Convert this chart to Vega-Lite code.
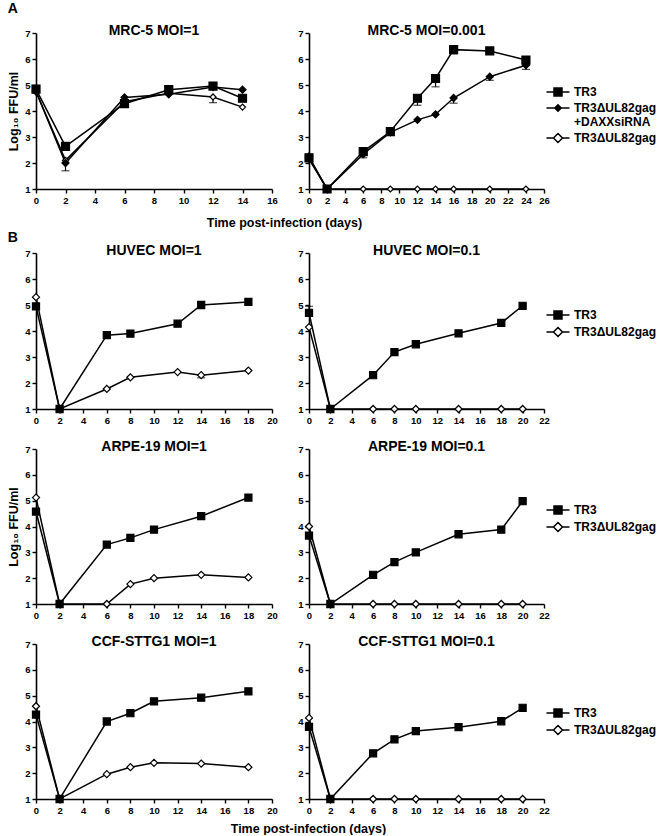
{
  "$schema": "https://vega.github.io/schema/vega-lite/v6.json",
  "padding": {"left": 7, "top": 2, "right": 0, "bottom": 0},
  "config": {
    "font": "Liberation Sans",
    "view": {"stroke": null},
    "axis": {"domainColor": "black", "domainWidth": 1.6, "tickColor": "black", "tickWidth": 1.4, "tickSize": 4, "labelFont": "Liberation Sans", "labelFontWeight": "bold", "labelFontSize": 9.5, "labelColor": "black", "labelPadding": 2, "grid": false, "titleFont": "Liberation Sans", "titleFontSize": 12.5, "titleFontWeight": "bold", "titleColor": "black", "titlePadding": 4, "labelFlush": false, "labelOverlap": false},
    "title": {"font": "Liberation Sans", "fontSize": 14, "fontWeight": "bold", "color": "black", "offset": -10}
  },
  "datasets": {
    "a1": [
      {"day": 0, "series": "TR3ΔUL82gag", "v": 4.75},
      {"day": 2, "series": "TR3ΔUL82gag", "v": 2.1},
      {"day": 6, "series": "TR3ΔUL82gag", "v": 4.36},
      {"day": 9, "series": "TR3ΔUL82gag", "v": 4.68},
      {"day": 12, "series": "TR3ΔUL82gag", "v": 4.54, "e": 4.32},
      {"day": 14, "series": "TR3ΔUL82gag", "v": 4.15},
      {"day": 0, "series": "TR3ΔUL82gag+DAXXsiRNA", "v": 4.75},
      {"day": 2, "series": "TR3ΔUL82gag+DAXXsiRNA", "v": 2.0, "e": 1.7},
      {"day": 6, "series": "TR3ΔUL82gag+DAXXsiRNA", "v": 4.52},
      {"day": 9, "series": "TR3ΔUL82gag+DAXXsiRNA", "v": 4.64},
      {"day": 12, "series": "TR3ΔUL82gag+DAXXsiRNA", "v": 4.92},
      {"day": 14, "series": "TR3ΔUL82gag+DAXXsiRNA", "v": 4.82},
      {"day": 0, "series": "TR3", "v": 4.84},
      {"day": 2, "series": "TR3", "v": 2.64, "e": 2.5},
      {"day": 6, "series": "TR3", "v": 4.28},
      {"day": 9, "series": "TR3", "v": 4.82},
      {"day": 12, "series": "TR3", "v": 4.96, "e": 4.85},
      {"day": 14, "series": "TR3", "v": 4.49}
    ],
    "a2": [
      {"day": 0, "series": "TR3ΔUL82gag", "v": 2.15},
      {"day": 2, "series": "TR3ΔUL82gag", "v": 1},
      {"day": 6, "series": "TR3ΔUL82gag", "v": 1},
      {"day": 9, "series": "TR3ΔUL82gag", "v": 1},
      {"day": 12, "series": "TR3ΔUL82gag", "v": 1},
      {"day": 14, "series": "TR3ΔUL82gag", "v": 1},
      {"day": 16, "series": "TR3ΔUL82gag", "v": 1},
      {"day": 20, "series": "TR3ΔUL82gag", "v": 1},
      {"day": 24, "series": "TR3ΔUL82gag", "v": 1},
      {"day": 0, "series": "TR3ΔUL82gag+DAXXsiRNA", "v": 2.25},
      {"day": 2, "series": "TR3ΔUL82gag+DAXXsiRNA", "v": 1},
      {"day": 6, "series": "TR3ΔUL82gag+DAXXsiRNA", "v": 2.34, "e": 2.2},
      {"day": 9, "series": "TR3ΔUL82gag+DAXXsiRNA", "v": 3.18},
      {"day": 12, "series": "TR3ΔUL82gag+DAXXsiRNA", "v": 3.66},
      {"day": 14, "series": "TR3ΔUL82gag+DAXXsiRNA", "v": 3.87},
      {"day": 16, "series": "TR3ΔUL82gag+DAXXsiRNA", "v": 4.5, "e": 4.3},
      {"day": 20, "series": "TR3ΔUL82gag+DAXXsiRNA", "v": 5.32, "e": 5.18},
      {"day": 24, "series": "TR3ΔUL82gag+DAXXsiRNA", "v": 5.76, "e": 5.6},
      {"day": 0, "series": "TR3", "v": 2.2},
      {"day": 2, "series": "TR3", "v": 1},
      {"day": 6, "series": "TR3", "v": 2.44, "e": 2.3},
      {"day": 9, "series": "TR3", "v": 3.21},
      {"day": 12, "series": "TR3", "v": 4.49, "e": 4.22},
      {"day": 14, "series": "TR3", "v": 5.25, "e": 4.93},
      {"day": 16, "series": "TR3", "v": 6.36, "e": 6.2},
      {"day": 20, "series": "TR3", "v": 6.31},
      {"day": 24, "series": "TR3", "v": 5.96, "e": 5.82}
    ],
    "b1": [
      {"day": 0, "series": "TR3ΔUL82gag", "v": 5.3},
      {"day": 2, "series": "TR3ΔUL82gag", "v": 1},
      {"day": 6, "series": "TR3ΔUL82gag", "v": 1.77},
      {"day": 8, "series": "TR3ΔUL82gag", "v": 2.22},
      {"day": 12, "series": "TR3ΔUL82gag", "v": 2.42},
      {"day": 14, "series": "TR3ΔUL82gag", "v": 2.3, "e": 2.2},
      {"day": 18, "series": "TR3ΔUL82gag", "v": 2.48},
      {"day": 0, "series": "TR3", "v": 4.95},
      {"day": 2, "series": "TR3", "v": 1},
      {"day": 6, "series": "TR3", "v": 3.84},
      {"day": 8, "series": "TR3", "v": 3.9},
      {"day": 12, "series": "TR3", "v": 4.28, "e": 4.2},
      {"day": 14, "series": "TR3", "v": 5.0},
      {"day": 18, "series": "TR3", "v": 5.12}
    ],
    "b2": [
      {"day": 0, "series": "TR3ΔUL82gag", "v": 4.15},
      {"day": 2, "series": "TR3ΔUL82gag", "v": 1},
      {"day": 6, "series": "TR3ΔUL82gag", "v": 1},
      {"day": 8, "series": "TR3ΔUL82gag", "v": 1},
      {"day": 10, "series": "TR3ΔUL82gag", "v": 1},
      {"day": 14, "series": "TR3ΔUL82gag", "v": 1},
      {"day": 18, "series": "TR3ΔUL82gag", "v": 1},
      {"day": 20, "series": "TR3ΔUL82gag", "v": 1},
      {"day": 0, "series": "TR3", "v": 4.7, "e": 4.95},
      {"day": 2, "series": "TR3", "v": 1},
      {"day": 6, "series": "TR3", "v": 2.3},
      {"day": 8, "series": "TR3", "v": 3.19},
      {"day": 10, "series": "TR3", "v": 3.49},
      {"day": 14, "series": "TR3", "v": 3.91},
      {"day": 18, "series": "TR3", "v": 4.31},
      {"day": 20, "series": "TR3", "v": 4.97}
    ],
    "c1": [
      {"day": 0, "series": "TR3ΔUL82gag", "v": 5.12},
      {"day": 2, "series": "TR3ΔUL82gag", "v": 1},
      {"day": 6, "series": "TR3ΔUL82gag", "v": 1},
      {"day": 8, "series": "TR3ΔUL82gag", "v": 1.77},
      {"day": 10, "series": "TR3ΔUL82gag", "v": 2.0},
      {"day": 14, "series": "TR3ΔUL82gag", "v": 2.13},
      {"day": 18, "series": "TR3ΔUL82gag", "v": 2.03},
      {"day": 0, "series": "TR3", "v": 4.58},
      {"day": 2, "series": "TR3", "v": 1},
      {"day": 6, "series": "TR3", "v": 3.3},
      {"day": 8, "series": "TR3", "v": 3.56},
      {"day": 10, "series": "TR3", "v": 3.88},
      {"day": 14, "series": "TR3", "v": 4.4},
      {"day": 18, "series": "TR3", "v": 5.12}
    ],
    "c2": [
      {"day": 0, "series": "TR3ΔUL82gag", "v": 4.0},
      {"day": 2, "series": "TR3ΔUL82gag", "v": 1},
      {"day": 6, "series": "TR3ΔUL82gag", "v": 1},
      {"day": 8, "series": "TR3ΔUL82gag", "v": 1},
      {"day": 10, "series": "TR3ΔUL82gag", "v": 1},
      {"day": 14, "series": "TR3ΔUL82gag", "v": 1},
      {"day": 18, "series": "TR3ΔUL82gag", "v": 1},
      {"day": 20, "series": "TR3ΔUL82gag", "v": 1},
      {"day": 0, "series": "TR3", "v": 3.65},
      {"day": 2, "series": "TR3", "v": 1},
      {"day": 6, "series": "TR3", "v": 2.13},
      {"day": 8, "series": "TR3", "v": 2.62},
      {"day": 10, "series": "TR3", "v": 3.0},
      {"day": 14, "series": "TR3", "v": 3.7},
      {"day": 18, "series": "TR3", "v": 3.88},
      {"day": 20, "series": "TR3", "v": 4.98}
    ],
    "d1": [
      {"day": 0, "series": "TR3ΔUL82gag", "v": 4.59},
      {"day": 2, "series": "TR3ΔUL82gag", "v": 1},
      {"day": 6, "series": "TR3ΔUL82gag", "v": 1.96},
      {"day": 8, "series": "TR3ΔUL82gag", "v": 2.23},
      {"day": 10, "series": "TR3ΔUL82gag", "v": 2.4},
      {"day": 14, "series": "TR3ΔUL82gag", "v": 2.37},
      {"day": 18, "series": "TR3ΔUL82gag", "v": 2.23},
      {"day": 0, "series": "TR3", "v": 4.27},
      {"day": 2, "series": "TR3", "v": 1},
      {"day": 6, "series": "TR3", "v": 4.0},
      {"day": 8, "series": "TR3", "v": 4.32},
      {"day": 10, "series": "TR3", "v": 4.78},
      {"day": 14, "series": "TR3", "v": 4.92},
      {"day": 18, "series": "TR3", "v": 5.17}
    ],
    "d2": [
      {"day": 0, "series": "TR3ΔUL82gag", "v": 4.14},
      {"day": 2, "series": "TR3ΔUL82gag", "v": 1},
      {"day": 6, "series": "TR3ΔUL82gag", "v": 1},
      {"day": 8, "series": "TR3ΔUL82gag", "v": 1},
      {"day": 10, "series": "TR3ΔUL82gag", "v": 1},
      {"day": 14, "series": "TR3ΔUL82gag", "v": 1},
      {"day": 18, "series": "TR3ΔUL82gag", "v": 1},
      {"day": 20, "series": "TR3ΔUL82gag", "v": 1},
      {"day": 0, "series": "TR3", "v": 3.79},
      {"day": 2, "series": "TR3", "v": 1},
      {"day": 6, "series": "TR3", "v": 2.77},
      {"day": 8, "series": "TR3", "v": 3.31},
      {"day": 10, "series": "TR3", "v": 3.63},
      {"day": 14, "series": "TR3", "v": 3.78},
      {"day": 18, "series": "TR3", "v": 4.01},
      {"day": 20, "series": "TR3", "v": 4.53}
    ]
  },
  "resolve": {"scale": {"shape": "independent", "fill": "independent", "size": "independent"}, "legend": {"shape": "independent", "fill": "independent", "size": "independent"}},
  "spacing": 2,
  "vconcat": [
    {
      "title": {"text": "A", "anchor": "start", "frame": "bounds", "fontSize": 14, "offset": 8},
      "resolve": {"scale": {"shape": "independent", "fill": "independent", "size": "independent"}, "legend": {"shape": "independent", "fill": "independent", "size": "independent"}},
      "vconcat": [
        {
          "title": {"text": "Time post-infection (days)", "orient": "bottom", "anchor": "start", "frame": "bounds", "fontSize": 12.5, "offset": 12, "dx": 199},
          "resolve": {"scale": {"shape": "independent", "fill": "independent", "size": "independent"}, "legend": {"shape": "independent", "fill": "independent", "size": "independent"}},
          "spacing": 19,
          "hconcat": [
            {
              "title": "MRC-5 MOI=1",
              "width": 236, "height": 156,
              "data": {"name": "a1"},
              "encoding": {
                "x": {"field": "day", "type": "quantitative", "scale": {"domain": [0, 16], "nice": false, "zero": false}, "axis": {"title": null, "tickCount": 8}},
                "y": {"field": "v", "type": "quantitative", "scale": {"domain": [1, 7], "nice": false, "zero": false}, "axis": {"title": "Log₁₀ FFU/ml", "tickCount": 6}}
              },
              "layer": [
                {"transform": [{"filter": "isValid(datum.e)"}], "mark": {"type": "rule", "color": "black", "strokeWidth": 1.2}, "encoding": {"y2": {"field": "e"}}},
                {"transform": [{"filter": "isValid(datum.e)"}], "mark": {"type": "tick", "color": "black", "thickness": 1.2, "size": 8, "orient": "horizontal"}, "encoding": {"y": {"field": "e", "type": "quantitative", "scale": {"domain": [1, 7], "nice": false, "zero": false}, "axis": {"title": "Log₁₀ FFU/ml", "tickCount": 6}}}},
                {"mark": {"type": "line", "color": "black", "strokeWidth": 1.5}, "encoding": {"detail": {"field": "series"}}},
                {"mark": {"type": "point", "filled": true, "stroke": "black", "strokeWidth": 1.2, "opacity": 1}, "encoding": {
                  "shape": {"field": "series", "type": "nominal", "scale": {"domain": ["TR3", "TR3ΔUL82gag+DAXXsiRNA", "TR3ΔUL82gag"], "range": ["square", "diamond", "diamond"]}, "legend": null},
                  "fill": {"field": "series", "type": "nominal", "scale": {"domain": ["TR3", "TR3ΔUL82gag+DAXXsiRNA", "TR3ΔUL82gag"], "range": ["black", "black", "white"]}, "legend": null},
                  "size": {"field": "series", "type": "nominal", "scale": {"domain": ["TR3", "TR3ΔUL82gag+DAXXsiRNA", "TR3ΔUL82gag"], "range": [64, 36, 56]}, "legend": null}
                }}
              ]
            },
            {
              "title": "MRC-5 MOI=0.001",
              "width": 235, "height": 156,
              "data": {"name": "a2"},
              "resolve": {"scale": {"shape": "independent", "fill": "independent", "size": "independent"}, "legend": {"shape": "independent", "fill": "independent", "size": "independent"}},
              "encoding": {
                "x": {"field": "day", "type": "quantitative", "scale": {"domain": [0, 26], "nice": false, "zero": false}, "axis": {"title": null, "tickCount": 13}},
                "y": {"field": "v", "type": "quantitative", "scale": {"domain": [1, 7], "nice": false, "zero": false}, "axis": {"title": null, "tickCount": 6}}
              },
              "layer": [
                {"transform": [{"filter": "isValid(datum.e)"}], "mark": {"type": "rule", "color": "black", "strokeWidth": 1.2}, "encoding": {"y2": {"field": "e"}}},
                {"transform": [{"filter": "isValid(datum.e)"}], "mark": {"type": "tick", "color": "black", "thickness": 1.2, "size": 8, "orient": "horizontal"}, "encoding": {"y": {"field": "e", "type": "quantitative", "scale": {"domain": [1, 7], "nice": false, "zero": false}, "axis": {"title": null, "tickCount": 6}}}},
                {"mark": {"type": "line", "color": "black", "strokeWidth": 1.5}, "encoding": {"detail": {"field": "series"}}},
                {"mark": {"type": "point", "filled": true, "stroke": "black", "strokeWidth": 1.2, "opacity": 1}, "encoding": {
                  "shape": {"field": "series", "type": "nominal", "scale": {"domain": ["TR3", "TR3ΔUL82gag+DAXXsiRNA", "TR3ΔUL82gag"], "range": ["square", "diamond", "diamond"]}, "legend": null},
                  "fill": {"field": "series", "type": "nominal", "scale": {"domain": ["TR3", "TR3ΔUL82gag+DAXXsiRNA", "TR3ΔUL82gag"], "range": ["black", "black", "white"]}, "legend": null},
                  "size": {"field": "series", "type": "nominal", "scale": {"domain": ["TR3", "TR3ΔUL82gag+DAXXsiRNA", "TR3ΔUL82gag"], "range": [64, 36, 56]}, "legend": null}
                }},
                {"transform": [{"filter": "datum.day < 0"}], "mark": {"type": "point", "filled": true, "stroke": "black", "strokeWidth": 1.5, "opacity": 1, "size": 100}, "encoding": {
                  "shape": {"field": "series", "type": "nominal", "scale": {"domain": ["TR3", "TR3ΔUL82gag+DAXXsiRNA", "TR3ΔUL82gag"], "range": ["M-2.3,0H2.3M-0.8,-0.8H0.8V0.8H-0.8Z", "M-2.3,0H2.3M0,-0.65L0.65,0L0,0.65L-0.65,0Z", "M-2.3,0H-0.9M0.9,0H2.3M0,-0.9L0.9,0L0,0.9L-0.9,0Z"]},
                    "legend": {"title": null, "orient": "none", "legendX": 243, "legendY": 53, "symbolSize": 100, "symbolStrokeWidth": 1.5, "labelFontSize": 12, "labelFontWeight": "bold", "labelFont": "Liberation Sans", "labelColor": "black", "labelOffset": 10, "rowPadding": 2, "labelLimit": 300, "labelExpr": "datum.label == 'TR3ΔUL82gag+DAXXsiRNA' ? ['TR3ΔUL82gag', '+DAXXsiRNA'] : datum.label"}},
                  "fill": {"field": "series", "type": "nominal", "scale": {"domain": ["TR3", "TR3ΔUL82gag+DAXXsiRNA", "TR3ΔUL82gag"], "range": ["black", "black", "white"]},
                    "legend": {"title": null, "orient": "none", "legendX": 243, "legendY": 53, "symbolSize": 100, "symbolStrokeWidth": 1.5, "labelFontSize": 12, "labelFontWeight": "bold", "labelFont": "Liberation Sans", "labelColor": "black", "labelOffset": 10, "rowPadding": 2, "labelLimit": 300, "labelExpr": "datum.label == 'TR3ΔUL82gag+DAXXsiRNA' ? ['TR3ΔUL82gag', '+DAXXsiRNA'] : datum.label"}}
                }}
              ]
            }
          ]
        }
      ]
    },
    {
      "title": {"text": "B", "anchor": "start", "frame": "bounds", "fontSize": 14, "offset": -1},
      "resolve": {"scale": {"shape": "independent", "fill": "independent", "size": "independent"}, "legend": {"shape": "independent", "fill": "independent", "size": "independent"}},
      "vconcat": [
        {
          "title": {"text": "Time post-infection (days)", "orient": "bottom", "anchor": "start", "frame": "bounds", "fontSize": 12.5, "offset": 8, "dx": 223},
          "resolve": {"scale": {"shape": "independent", "fill": "independent", "size": "independent"}, "legend": {"shape": "independent", "fill": "independent", "size": "independent"}},
          "spacing": 15,
          "vconcat": [
            {
              "resolve": {"scale": {"shape": "independent", "fill": "independent", "size": "independent"}, "legend": {"shape": "independent", "fill": "independent", "size": "independent"}},
              "spacing": 19,
              "hconcat": [
                {
                  "title": "HUVEC MOI=1",
                  "width": 236, "height": 156,
                  "data": {"name": "b1"},
                  "encoding": {
                    "x": {"field": "day", "type": "quantitative", "scale": {"domain": [0, 20], "nice": false, "zero": false}, "axis": {"title": null, "tickCount": 10}},
                    "y": {"field": "v", "type": "quantitative", "scale": {"domain": [1, 7], "nice": false, "zero": false}, "axis": {"title": " ", "tickCount": 6}}
                  },
                  "layer": [
                    {"transform": [{"filter": "isValid(datum.e)"}], "mark": {"type": "rule", "color": "black", "strokeWidth": 1.2}, "encoding": {"y2": {"field": "e"}}},
                    {"transform": [{"filter": "isValid(datum.e)"}], "mark": {"type": "tick", "color": "black", "thickness": 1.2, "size": 8, "orient": "horizontal"}, "encoding": {"y": {"field": "e", "type": "quantitative", "scale": {"domain": [1, 7], "nice": false, "zero": false}, "axis": {"title": " ", "tickCount": 6}}}},
                    {"mark": {"type": "line", "color": "black", "strokeWidth": 1.5}, "encoding": {"detail": {"field": "series"}}},
                    {"mark": {"type": "point", "filled": true, "stroke": "black", "strokeWidth": 1.2, "opacity": 1, "size": 50}, "encoding": {
                      "shape": {"field": "series", "type": "nominal", "scale": {"domain": ["TR3", "TR3ΔUL82gag"], "range": ["square", "diamond"]}, "legend": null},
                      "fill": {"field": "series", "type": "nominal", "scale": {"domain": ["TR3", "TR3ΔUL82gag"], "range": ["black", "white"]}, "legend": null}
                    }}
                  ]
                },
                {
                  "title": "HUVEC MOI=0.1",
                  "width": 235, "height": 156,
                  "data": {"name": "b2"},
                  "resolve": {"scale": {"shape": "independent", "fill": "independent", "size": "independent"}, "legend": {"shape": "independent", "fill": "independent", "size": "independent"}},
                  "encoding": {
                    "x": {"field": "day", "type": "quantitative", "scale": {"domain": [0, 22], "nice": false, "zero": false}, "axis": {"title": null, "tickCount": 11}},
                    "y": {"field": "v", "type": "quantitative", "scale": {"domain": [1, 7], "nice": false, "zero": false}, "axis": {"title": null, "tickCount": 6}}
                  },
                  "layer": [
                    {"transform": [{"filter": "isValid(datum.e)"}], "mark": {"type": "rule", "color": "black", "strokeWidth": 1.2}, "encoding": {"y2": {"field": "e"}}},
                    {"transform": [{"filter": "isValid(datum.e)"}], "mark": {"type": "tick", "color": "black", "thickness": 1.2, "size": 8, "orient": "horizontal"}, "encoding": {"y": {"field": "e", "type": "quantitative", "scale": {"domain": [1, 7], "nice": false, "zero": false}, "axis": {"title": null, "tickCount": 6}}}},
                    {"mark": {"type": "line", "color": "black", "strokeWidth": 1.5}, "encoding": {"detail": {"field": "series"}}},
                    {"mark": {"type": "point", "filled": true, "stroke": "black", "strokeWidth": 1.2, "opacity": 1, "size": 50}, "encoding": {
                      "shape": {"field": "series", "type": "nominal", "scale": {"domain": ["TR3", "TR3ΔUL82gag"], "range": ["square", "diamond"]}, "legend": null},
                      "fill": {"field": "series", "type": "nominal", "scale": {"domain": ["TR3", "TR3ΔUL82gag"], "range": ["black", "white"]}, "legend": null}
                    }},
                    {"transform": [{"filter": "datum.day < 0"}], "mark": {"type": "point", "filled": true, "stroke": "black", "strokeWidth": 1.5, "opacity": 1, "size": 100}, "encoding": {
                      "shape": {"field": "series", "type": "nominal", "scale": {"domain": ["TR3", "TR3ΔUL82gag"], "range": ["M-2.3,0H2.3M-0.8,-0.8H0.8V0.8H-0.8Z", "M-2.3,0H-0.9M0.9,0H2.3M0,-0.9L0.9,0L0,0.9L-0.9,0Z"]},
                        "legend": {"title": null, "orient": "none", "legendX": 243, "legendY": 56, "symbolSize": 100, "symbolStrokeWidth": 1.5, "labelFontSize": 12, "labelFontWeight": "bold", "labelFont": "Liberation Sans", "labelColor": "black", "labelOffset": 10, "rowPadding": 2, "labelLimit": 300}},
                      "fill": {"field": "series", "type": "nominal", "scale": {"domain": ["TR3", "TR3ΔUL82gag"], "range": ["black", "white"]},
                        "legend": {"title": null, "orient": "none", "legendX": 243, "legendY": 56, "symbolSize": 100, "symbolStrokeWidth": 1.5, "labelFontSize": 12, "labelFontWeight": "bold", "labelFont": "Liberation Sans", "labelColor": "black", "labelOffset": 10, "rowPadding": 2, "labelLimit": 300}}
                    }}
                  ]
                }
              ]
            },
            {
              "resolve": {"scale": {"shape": "independent", "fill": "independent", "size": "independent"}, "legend": {"shape": "independent", "fill": "independent", "size": "independent"}},
              "spacing": 19,
              "hconcat": [
                {
                  "title": "ARPE-19 MOI=1",
                  "width": 236, "height": 155,
                  "data": {"name": "c1"},
                  "encoding": {
                    "x": {"field": "day", "type": "quantitative", "scale": {"domain": [0, 20], "nice": false, "zero": false}, "axis": {"title": null, "tickCount": 10}},
                    "y": {"field": "v", "type": "quantitative", "scale": {"domain": [1, 7], "nice": false, "zero": false}, "axis": {"title": "Log₁₀ FFU/ml", "tickCount": 6}}
                  },
                  "layer": [
                    {"mark": {"type": "line", "color": "black", "strokeWidth": 1.5}, "encoding": {"detail": {"field": "series"}}},
                    {"mark": {"type": "point", "filled": true, "stroke": "black", "strokeWidth": 1.2, "opacity": 1, "size": 50}, "encoding": {
                      "shape": {"field": "series", "type": "nominal", "scale": {"domain": ["TR3", "TR3ΔUL82gag"], "range": ["square", "diamond"]}, "legend": null},
                      "fill": {"field": "series", "type": "nominal", "scale": {"domain": ["TR3", "TR3ΔUL82gag"], "range": ["black", "white"]}, "legend": null}
                    }}
                  ]
                },
                {
                  "title": "ARPE-19 MOI=0.1",
                  "width": 235, "height": 155,
                  "data": {"name": "c2"},
                  "resolve": {"scale": {"shape": "independent", "fill": "independent", "size": "independent"}, "legend": {"shape": "independent", "fill": "independent", "size": "independent"}},
                  "encoding": {
                    "x": {"field": "day", "type": "quantitative", "scale": {"domain": [0, 22], "nice": false, "zero": false}, "axis": {"title": null, "tickCount": 11}},
                    "y": {"field": "v", "type": "quantitative", "scale": {"domain": [1, 7], "nice": false, "zero": false}, "axis": {"title": null, "tickCount": 6}}
                  },
                  "layer": [
                    {"mark": {"type": "line", "color": "black", "strokeWidth": 1.5}, "encoding": {"detail": {"field": "series"}}},
                    {"mark": {"type": "point", "filled": true, "stroke": "black", "strokeWidth": 1.2, "opacity": 1, "size": 50}, "encoding": {
                      "shape": {"field": "series", "type": "nominal", "scale": {"domain": ["TR3", "TR3ΔUL82gag"], "range": ["square", "diamond"]}, "legend": null},
                      "fill": {"field": "series", "type": "nominal", "scale": {"domain": ["TR3", "TR3ΔUL82gag"], "range": ["black", "white"]}, "legend": null}
                    }},
                    {"transform": [{"filter": "datum.day < 0"}], "mark": {"type": "point", "filled": true, "stroke": "black", "strokeWidth": 1.5, "opacity": 1, "size": 100}, "encoding": {
                      "shape": {"field": "series", "type": "nominal", "scale": {"domain": ["TR3", "TR3ΔUL82gag"], "range": ["M-2.3,0H2.3M-0.8,-0.8H0.8V0.8H-0.8Z", "M-2.3,0H-0.9M0.9,0H2.3M0,-0.9L0.9,0L0,0.9L-0.9,0Z"]},
                        "legend": {"title": null, "orient": "none", "legendX": 243, "legendY": 55, "symbolSize": 100, "symbolStrokeWidth": 1.5, "labelFontSize": 12, "labelFontWeight": "bold", "labelFont": "Liberation Sans", "labelColor": "black", "labelOffset": 10, "rowPadding": 2, "labelLimit": 300}},
                      "fill": {"field": "series", "type": "nominal", "scale": {"domain": ["TR3", "TR3ΔUL82gag"], "range": ["black", "white"]},
                        "legend": {"title": null, "orient": "none", "legendX": 243, "legendY": 55, "symbolSize": 100, "symbolStrokeWidth": 1.5, "labelFontSize": 12, "labelFontWeight": "bold", "labelFont": "Liberation Sans", "labelColor": "black", "labelOffset": 10, "rowPadding": 2, "labelLimit": 300}}
                    }}
                  ]
                }
              ]
            },
            {
              "resolve": {"scale": {"shape": "independent", "fill": "independent", "size": "independent"}, "legend": {"shape": "independent", "fill": "independent", "size": "independent"}},
              "spacing": 19,
              "hconcat": [
                {
                  "title": "CCF-STTG1 MOI=1",
                  "width": 236, "height": 155,
                  "data": {"name": "d1"},
                  "encoding": {
                    "x": {"field": "day", "type": "quantitative", "scale": {"domain": [0, 20], "nice": false, "zero": false}, "axis": {"title": null, "tickCount": 10}},
                    "y": {"field": "v", "type": "quantitative", "scale": {"domain": [1, 7], "nice": false, "zero": false}, "axis": {"title": " ", "tickCount": 6}}
                  },
                  "layer": [
                    {"mark": {"type": "line", "color": "black", "strokeWidth": 1.5}, "encoding": {"detail": {"field": "series"}}},
                    {"mark": {"type": "point", "filled": true, "stroke": "black", "strokeWidth": 1.2, "opacity": 1, "size": 50}, "encoding": {
                      "shape": {"field": "series", "type": "nominal", "scale": {"domain": ["TR3", "TR3ΔUL82gag"], "range": ["square", "diamond"]}, "legend": null},
                      "fill": {"field": "series", "type": "nominal", "scale": {"domain": ["TR3", "TR3ΔUL82gag"], "range": ["black", "white"]}, "legend": null}
                    }}
                  ]
                },
                {
                  "title": "CCF-STTG1 MOI=0.1",
                  "width": 235, "height": 155,
                  "data": {"name": "d2"},
                  "resolve": {"scale": {"shape": "independent", "fill": "independent", "size": "independent"}, "legend": {"shape": "independent", "fill": "independent", "size": "independent"}},
                  "encoding": {
                    "x": {"field": "day", "type": "quantitative", "scale": {"domain": [0, 22], "nice": false, "zero": false}, "axis": {"title": null, "tickCount": 11}},
                    "y": {"field": "v", "type": "quantitative", "scale": {"domain": [1, 7], "nice": false, "zero": false}, "axis": {"title": null, "tickCount": 6}}
                  },
                  "layer": [
                    {"mark": {"type": "line", "color": "black", "strokeWidth": 1.5}, "encoding": {"detail": {"field": "series"}}},
                    {"mark": {"type": "point", "filled": true, "stroke": "black", "strokeWidth": 1.2, "opacity": 1, "size": 50}, "encoding": {
                      "shape": {"field": "series", "type": "nominal", "scale": {"domain": ["TR3", "TR3ΔUL82gag"], "range": ["square", "diamond"]}, "legend": null},
                      "fill": {"field": "series", "type": "nominal", "scale": {"domain": ["TR3", "TR3ΔUL82gag"], "range": ["black", "white"]}, "legend": null}
                    }},
                    {"transform": [{"filter": "datum.day < 0"}], "mark": {"type": "point", "filled": true, "stroke": "black", "strokeWidth": 1.5, "opacity": 1, "size": 100}, "encoding": {
                      "shape": {"field": "series", "type": "nominal", "scale": {"domain": ["TR3", "TR3ΔUL82gag"], "range": ["M-2.3,0H2.3M-0.8,-0.8H0.8V0.8H-0.8Z", "M-2.3,0H-0.9M0.9,0H2.3M0,-0.9L0.9,0L0,0.9L-0.9,0Z"]},
                        "legend": {"title": null, "orient": "none", "legendX": 243, "legendY": 63, "symbolSize": 100, "symbolStrokeWidth": 1.5, "labelFontSize": 12, "labelFontWeight": "bold", "labelFont": "Liberation Sans", "labelColor": "black", "labelOffset": 10, "rowPadding": 2, "labelLimit": 300}},
                      "fill": {"field": "series", "type": "nominal", "scale": {"domain": ["TR3", "TR3ΔUL82gag"], "range": ["black", "white"]},
                        "legend": {"title": null, "orient": "none", "legendX": 243, "legendY": 63, "symbolSize": 100, "symbolStrokeWidth": 1.5, "labelFontSize": 12, "labelFontWeight": "bold", "labelFont": "Liberation Sans", "labelColor": "black", "labelOffset": 10, "rowPadding": 2, "labelLimit": 300}}
                    }}
                  ]
                }
              ]
            }
          ]
        }
      ]
    }
  ]
}
